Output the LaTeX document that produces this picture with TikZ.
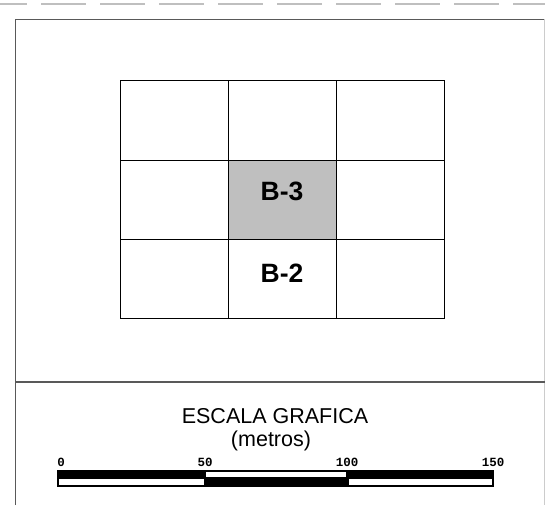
\documentclass[tikz,border=0pt]{standalone}
\usepackage{fontspec}
\setmainfont{Liberation Sans}
\newfontfamily\monofont{Liberation Mono}
\begin{document}
\begin{tikzpicture}[x=1pt,y=-1pt]
\tikzstyle{cell}=[rectangle, draw=black, line width=1pt, minimum width=108pt, minimum height=79.33pt, inner sep=0pt, outer sep=0pt]
\tikzstyle{block}=[font=\fontsize{26.5}{26.5}\selectfont\bfseries, inner sep=0pt, anchor=base]
\tikzstyle{frame}=[draw=black!65, line width=1.3pt]
\tikzstyle{tick}=[font=\monofont\bfseries\fontsize{12.5}{12.5}\selectfont, inner sep=0pt, anchor=base]
\tikzstyle{caption}=[font=\fontsize{21.5}{21.5}\selectfont, inner sep=0pt, anchor=base]

\useasboundingbox (0,0) rectangle (545,505);

% Sheet
\draw [draw=black!25, line width=1.5pt, dash pattern=on 45pt off 14pt, dash phase=18pt] (0,4) -- (545,4);
\draw [frame] (15.5,505) -- (15.5,19.5) -- (544.5,19.5);
\draw [frame, draw=black!20] (544.5,19.5) -- (544.5,505);
\draw [frame] (15.5,382) -- (545,382);

% Grid
\foreach \r in {1,...,3}
\foreach \c in {1,3}
\node at (66+\c*108, 41.2+\r*79.33) [cell] (cell_\r_\c) {};
\node at (282, 120.5) [cell] (cell_1_2) {};
\node at (282, 199.9) [cell, fill=black!25] (cell_2_2) {};
\node at (282, 279.2) [cell] (cell_3_2) {};
\node at (282, 200) [block] (b_3) {B-3};
\node at (282, 282.5) [block] (b_2) {B-2};

% Text
\node at (275, 423) [caption] (title) {ESCALA GRAFICA};
\node at (271, 446) [caption] (unit) {(metros)};

% Scale bar
\fill [black] (57,470) rectangle (494,487);
\fill [white] (206,472) rectangle (346,477);
\fill [white] (59,479) rectangle (204,485);
\fill [white] (349,479) rectangle (492,485);
\foreach \v/\x in {0/61,50/205,100/347,150/493}
\node at (\x, 466) [tick] (tick_\v) {\v};
\end{tikzpicture}
\end{document}
